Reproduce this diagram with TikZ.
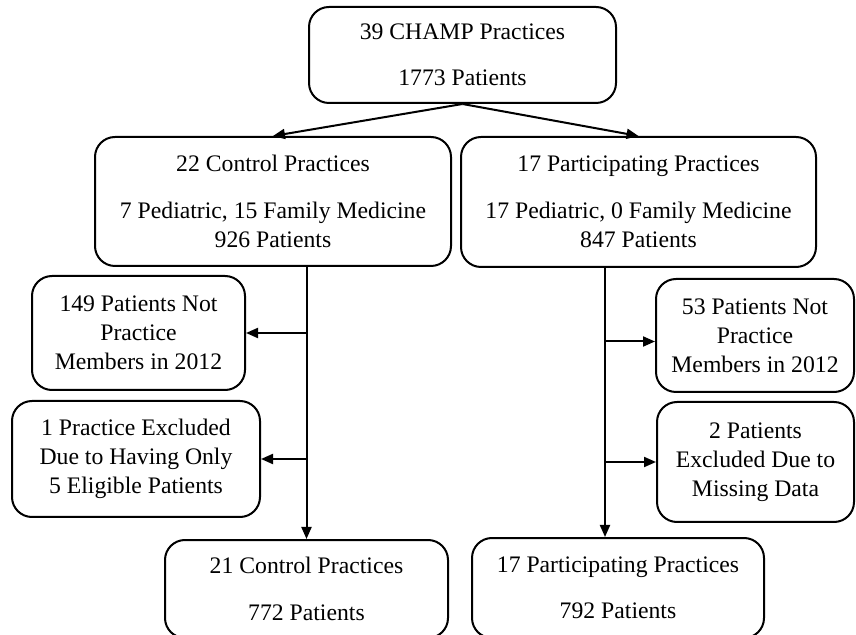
\documentclass[tikz,border=0pt]{standalone}
\usepackage{fontspec}
\setmainfont{Liberation Serif}
\usetikzlibrary{arrows.meta}

\begin{document}
\begin{tikzpicture}[
  x=0.5pt, y=-0.5pt,
  font=\fontsize{11.85}{14.5}\selectfont,
  >={Triangle[length=6pt,width=5pt]},
  stagebox/.style={
    rectangle, rounded corners=10pt, draw=black, line width=1pt,
    align=center, inner sep=0pt
  },
  dropbox/.style={
    rectangle, rounded corners=10pt, draw=black, line width=1pt,
    align=center, inner sep=0pt
  },
  flow/.style={->, line width=1pt, draw=black},
]
\useasboundingbox (0,0) rectangle (856,635);

\node[stagebox, minimum width=153.5pt, minimum height=48pt] (champ) at (462.5,55)
  {39 CHAMP Practices\\[8.75pt]1773 Patients};

\node[stagebox, minimum width=178pt, minimum height=64.5pt] (control) at (273,201.5)
  {22 Control Practices\\[9pt]
   7 Pediatric, 15 Family Medicine\\926 Patients};

\node[stagebox, minimum width=177.5pt, minimum height=65pt] (particip) at (638.5,202)
  {17 Participating Practices\\[9pt]
   17 Pediatric, 0 Family Medicine\\847 Patients};

% exclusions, control side
\node[dropbox, minimum width=106.5pt, minimum height=57pt] (notmemC) at (138.5,333)
  {149 Patients Not\\Practice\\Members in 2012};
\node[dropbox, minimum width=124pt, minimum height=58pt] (exclC) at (136,459)
  {1 Practice Excluded\\Due to Having Only\\5 Eligible Patients};

% exclusions, participating side
\node[dropbox, minimum width=99pt, minimum height=56.5pt] (notmemP) at (755,335.5)
  {53 Patients Not\\Practice\\Members in 2012};
\node[dropbox, minimum width=98.5pt, minimum height=60pt] (exclP) at (755.5,462)
  {2 Patients\\Excluded Due to\\Missing Data};

\node[stagebox, minimum width=141.5pt, minimum height=49pt] (finalC) at (306.5,589)
  {21 Control Practices\\[8.75pt]772 Patients};
\node[stagebox, minimum width=146pt, minimum height=50pt] (finalP) at (618,588)
  {17 Participating Practices\\[8.75pt]792 Patients};

\draw[flow] (champ.south) -- (control.north);
\draw[flow] (champ.south) -- (particip.north);

\draw[flow] (control.south -| finalC.north) -- (finalC.north);
\draw[flow] (notmemC.east -| finalC.north) -- (notmemC.east);
\draw[flow] (exclC.east -| finalC.north) -- (exclC.east);

\coordinate (ptrunk) at ([xshift=-16.75pt]particip.south);
\coordinate (armP) at ([yshift=-3pt]notmemP.west);
\draw[flow] (ptrunk) -- (ptrunk |- finalP.north);
\draw[flow] (armP -| ptrunk) -- (armP);
\draw[flow] (exclP.west -| ptrunk) -- (exclP.west);

\end{tikzpicture}
\end{document}
